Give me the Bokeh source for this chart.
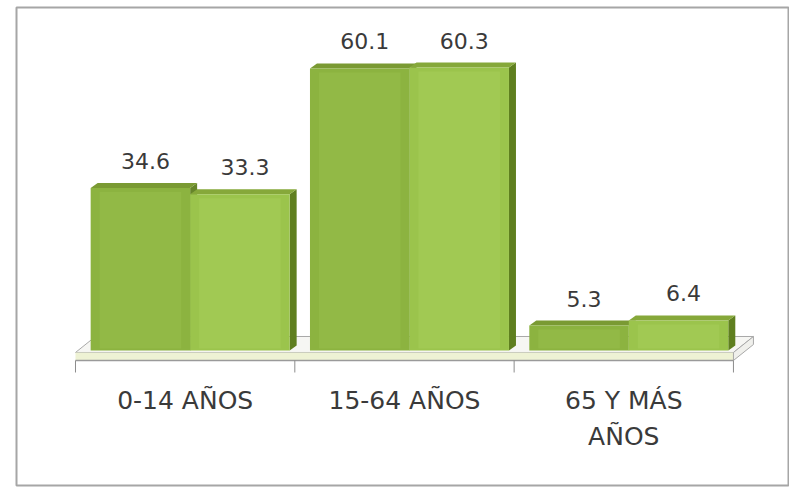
from bokeh.plotting import figure
from bokeh.models import ColumnDataSource
from bokeh.core.properties import value
from bokeh.embed import file_html
from bokeh.resources import INLINE

# ---- data ----
categories = ["0-14 AÑOS", "15-64 AÑOS", "65 Y MÁS\nAÑOS"]
serie_a = [34.6, 60.1, 5.3]
serie_b = [33.3, 60.3, 6.4]

# ---- geometry (pixels -> data units) ----
PX_X = 219.33   # px per category slot
PX_Y = 4.693    # px per value unit

bar_w = 99.5 / PX_X
shift = 5 / PX_X
dx = 7 / PX_X
dy = 5 / PX_Y
slab_top = -2 / PX_Y
slab_bot = -10 / PX_Y
floor_back = 14 / PX_Y
floor_dx = 20 / PX_X
tick_len = 12 / PX_Y

p = figure(width=789, height=487, x_range=(-0.769, 2.751), y_range=(-28.77, 73.09),
           output_backend="svg", toolbar_location=None,
           x_axis_location=None, y_axis_location=None,
           min_border_left=16, min_border_right=1, min_border_top=7, min_border_bottom=2)
p.xgrid.visible = False
p.ygrid.visible = False
p.outline_line_color = "#a6a6a6"
p.outline_line_width = 2
p.background_fill_color = "white"
p.border_fill_color = "white"

n = len(categories)
idx = list(range(n))

# floor top surface
p.patch([-0.5, n - 0.5, n - 0.5 + floor_dx, -0.5 + floor_dx],
        [slab_top, slab_top, floor_back, floor_back],
        fill_color="#f6f6f3", line_color="#a8a8a8", line_width=1)
# floor front slab
p.quad(left=[-0.5], right=[n - 0.5], bottom=[slab_bot], top=[slab_top],
       fill_color="#eef2d4", line_color=None)
p.patch([n - 0.5, n - 0.5 + floor_dx, n - 0.5 + floor_dx, n - 0.5],
        [slab_bot, floor_back + slab_bot - slab_top, floor_back, slab_top],
        fill_color="#f0f0ec", line_color="#a8a8a8", line_width=1)
p.segment(x0=[-0.5], y0=[slab_bot], x1=[n - 0.5], y1=[slab_bot],
          line_color="#9a9a9a", line_width=1.5)
# tick marks at slot boundaries
bounds = [i - 0.5 for i in range(n + 1)]
p.segment(x0=bounds, y0=[slab_bot] * len(bounds), x1=bounds,
          y1=[slab_bot - tick_len] * len(bounds), line_color="#8c8c8c", line_width=1)

series = [
    (serie_a, -1, "#8cb340", "#93ba47", "#66852a", "#7a9a33"),
    (serie_b, 1, "#9bc44c", "#a2ca55", "#5f7f1f", "#86a83a"),
]

for vals, side, c_front, c_inner, c_side, c_top in series:
    lefts = [i + shift + (side - 1) / 2 * bar_w for i in idx]
    rights = [l + bar_w for l in lefts]
    # side face
    p.patches([[r, r, r + dx, r + dx] for r in rights],
              [[0, v, v + dy, dy] for v in vals],
              fill_color=c_side, line_color=None)
    # top face
    p.patches([[l, r, r + dx, l + dx] for l, r in zip(lefts, rights)],
              [[v, v, v + dy, v + dy] for v in vals],
              fill_color=c_top, line_color=None)
    # front face
    p.quad(left=lefts, right=rights, bottom=[0] * n, top=vals,
           fill_color=c_front, line_color=None)
    # inner highlight
    p.quad(left=[l + 9 / PX_X for l in lefts], right=[r - 9 / PX_X for r in rights],
           bottom=[2 / PX_Y] * n, top=[max(v - 4 / PX_Y, 3 / PX_Y) for v in vals],
           fill_color=c_inner, line_color=None, fill_alpha=0.8)
    # value labels
    src = ColumnDataSource(dict(x=[(l + r) / 2 + 5 / PX_X for l, r in zip(lefts, rights)],
                                y=[v + 27 / PX_Y for v in vals],
                                t=[f"{v:.1f}" for v in vals]))
    p.text(x="x", y="y", text="t", source=src, text_align="center", text_baseline="middle",
           text_font=value("DejaVu Sans"), text_font_size="22px", text_color="#3a3a3a")

# category labels
p.text(x=idx, y=[-7.5] * n, text=categories, text_align="center", text_baseline="top",
       text_font=value("DejaVu Sans"), text_font_size="25px", text_color="#3a3a3a",
       text_line_height=1.26)

open("out.html", "w").write(file_html(p, INLINE))
